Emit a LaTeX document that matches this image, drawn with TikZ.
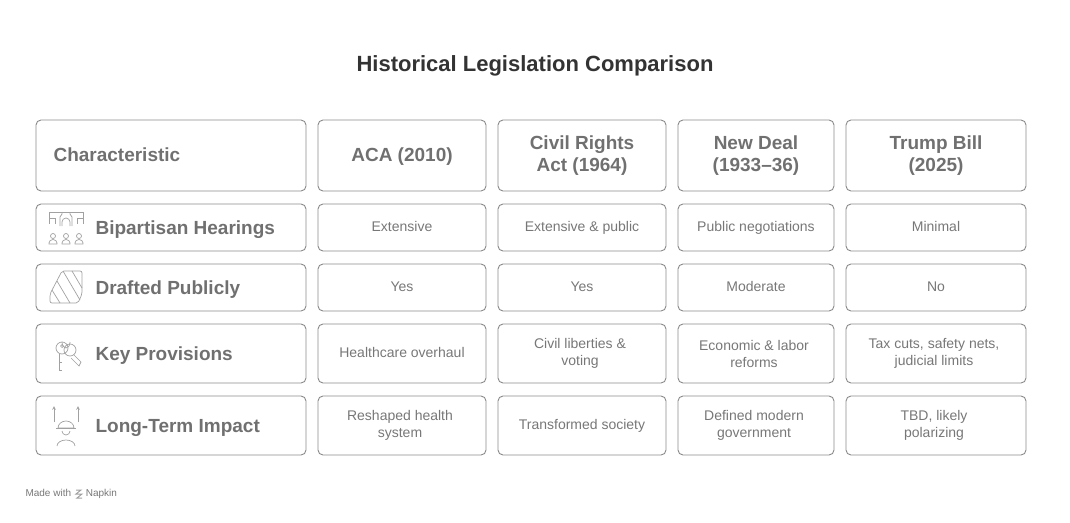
\documentclass[tikz,border=0pt]{standalone}
\usepackage{fontspec}
\setmainfont{Liberation Sans}
\definecolor{boxline}{HTML}{8A8A8A}
\definecolor{celltext}{HTML}{777777}
\definecolor{headtext}{HTML}{707070}
\definecolor{titletext}{HTML}{333333}
\tikzset{
  cellbox/.style={draw=boxline, line width=0.9pt, rounded corners=5pt},
  celltxt/.style={text=celltext, font=\fontsize{14}{17}\selectfont, align=center},
  onetxt/.style={celltxt, text height=10pt, text depth=3pt},
  headtxt/.style={text=headtext, font=\bfseries\fontsize{19}{22}\selectfont, align=center},
  icon/.style={draw=boxline!80, line width=0.7pt}
}
\begin{document}
\begin{tikzpicture}[x=1pt,y=-1pt]
\useasboundingbox (0,0) rectangle (1070,522);

% title
\node (title) [text=titletext, font=\bfseries\fontsize{22}{26}\selectfont] at (535,66) {Historical Legislation Comparison};

% column edges and row edges
\def\colL{{36,318,498,678,846}}
\def\colR{{306,486,666,834,1026}}
\def\rowT{{120,204,264,324,396}}
\def\rowB{{191,251,311,383,455}}

\foreach \c in {0,...,4}{
  \foreach \r in {0,...,4}{
    \pgfmathsetmacro{\xa}{\colL[\c]}
    \pgfmathsetmacro{\xb}{\colR[\c]}
    \pgfmathsetmacro{\ya}{\rowT[\r]}
    \pgfmathsetmacro{\yb}{\rowB[\r]}
    \draw[cellbox] (\xa,\ya) rectangle (\xb,\yb);
  }
}

% header row
\node (hchar) [headtxt, anchor=base west] at (50,161) {Characteristic};
\node (haca) [headtxt, anchor=base] at (402,161) {ACA (2010)};
\node (hcra) [headtxt] at (582,155.5) {Civil Rights\\Act (1964)};
\node (hnd) [headtxt] at (756,155.5) {New Deal\\(1933–36)};
\node (htb) [headtxt] at (936,155.5) {Trump Bill\\(2025)};

% row labels
\node (lbip) [headtxt, anchor=base west] at (92,234) {Bipartisan Hearings};
\node (ldra) [headtxt, anchor=base west] at (92,294) {Drafted Publicly};
\node (lkey) [headtxt, anchor=base west] at (92,360) {Key Provisions};
\node (llti) [headtxt, anchor=base west] at (92,432) {Long-Term Impact};

% icons
\draw[icon] (49,224) -- (49,212) -- (83,212) -- (83,224);
\draw[icon] (49,218) -- (55,218) -- (55,224);
\draw[icon] (83,218) -- (77,218) -- (77,224);
\draw[icon] (60,226) -- (60,217) -- (62,214) -- (62,212);
\draw[icon] (72,226) -- (72,217) -- (70,214) -- (70,212);
\draw[icon] (62,226) -- (62,222) arc (180:360:4) -- (70,226);
\foreach \x in {53,66,79}{
  \draw[icon] (\x,236) circle (2.5);
  \draw[icon] (\x-4,244) -- (\x-4,243) arc (180:360:4 and 3.5) -- (\x+4,244) -- cycle;
}
\draw[icon, rounded corners=2pt] (50,294) -- (62,271) -- (82,271) -- (82,294) -- (78,303) -- (50,303) -- cycle;
\draw[icon] (52,290) -- (60,303);
\draw[icon] (57,281) -- (70,303);
\draw[icon] (63,271) -- (80,300);
\draw[icon] (72,271) -- (82,288);
\draw[icon] (62,348) circle (6);
\draw[icon] (62,346) circle (1.5);
\draw[icon] (59,354) -- (59,370) -- (62,370);
\draw[icon] (59,362) -- (62,362);
\draw[icon] (62,342) arc (180:0:4 and 6);
\draw[icon] (70,350) circle (6);
\draw[icon] (74,355) -- (81,362) -- (79,366) -- (71,358);
\draw[icon,->,>=stealth] (54,422) -- (54,406);
\draw[icon,->,>=stealth] (78,422) -- (78,406);
\draw[icon] (58,428) arc (180:360:8 and 7) -- cycle;
\draw[icon] (56,428) -- (76,428);
\draw[icon] (62,431) arc (180:0:4);
\draw[icon] (57,446) arc (180:360:9 and 6);

% cells
\node (c11) [onetxt] at (402,227.5) {Extensive};
\node (c12) [onetxt] at (582,227.5) {Extensive \& public};
\node (c13) [onetxt] at (756,227.5) {Public negotiations};
\node (c14) [onetxt] at (936,227.5) {Minimal};
\node (c21) [onetxt] at (402,287.5) {Yes};
\node (c22) [onetxt] at (582,287.5) {Yes};
\node (c23) [onetxt] at (756,287.5) {Moderate};
\node (c24) [onetxt] at (936,287.5) {No};
\node (c31) [onetxt] at (402,353.5) {Healthcare overhaul};
\node (c32) [celltxt] at (580,353.5) {Civil liberties \&\\voting};
\node (c33) [celltxt] at (754,353.5) {Economic \& labor\\reforms};
\node (c34) [celltxt] at (934,353.5) {Tax cuts, safety nets,\\judicial limits};
\node (c41) [celltxt] at (400,425.5) {Reshaped health\\system};
\node (c42) [onetxt] at (582,425.5) {Transformed society};
\node (c43) [celltxt] at (754,425.5) {Defined modern\\government};
\node (c44) [celltxt] at (934,425.5) {TBD, likely\\polarizing};

% footer
\node (foot) [anchor=west, text=celltext, font=\fontsize{10}{12}\selectfont] at (22,494) {Made with \hspace{12pt}Napkin};
\draw[icon, line width=1pt] (76,490) -- (81,490) -- (76,494) -- (82,494) -- (77,498) -- (82,498);
\end{tikzpicture}
\end{document}
